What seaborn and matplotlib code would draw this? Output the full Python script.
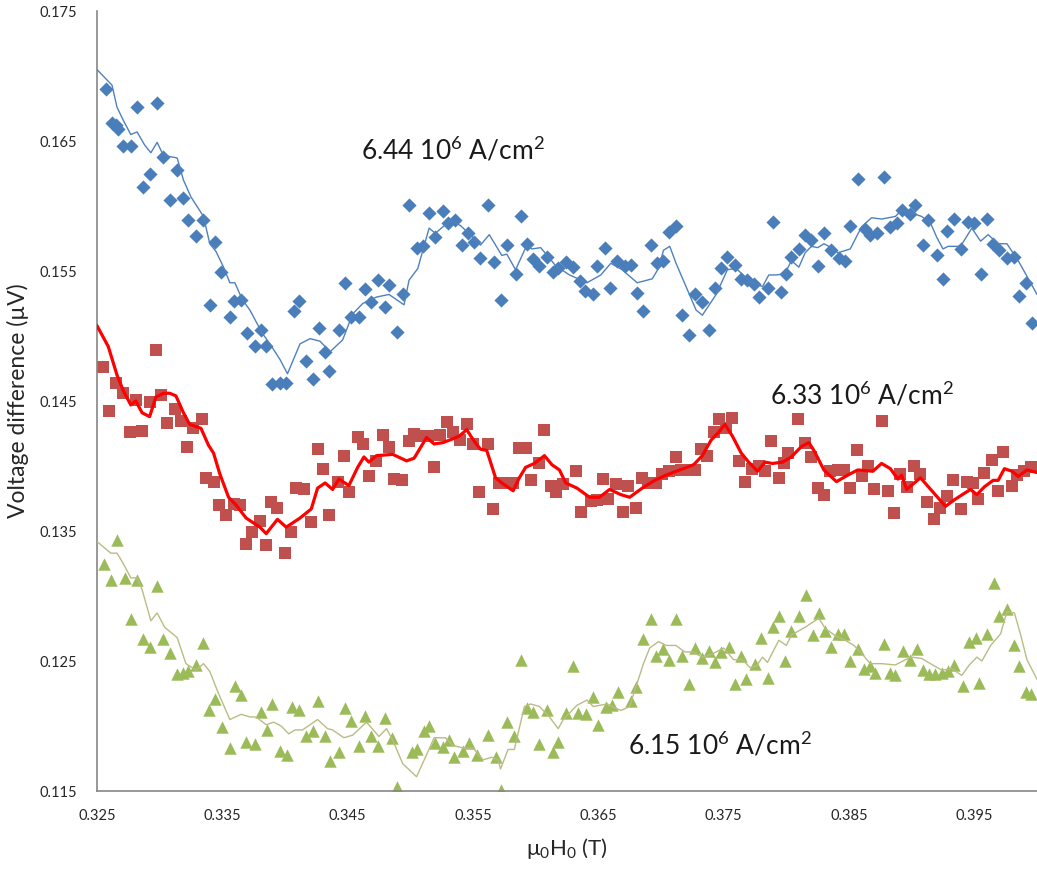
import matplotlib
matplotlib.use("Agg")
import matplotlib.pyplot as plt
import seaborn as sns
import numpy as np
import pandas as pd

# ---- data ----
blue_x = [0.3257, 0.3262, 0.3265, 0.3267, 0.3271, 0.3277, 0.3282, 0.3287, 0.3292, 0.3298,
          0.3303, 0.3308, 0.3314, 0.3319, 0.3323, 0.3329, 0.3335, 0.3340, 0.3344, 0.3349,
          0.3356, 0.3359, 0.3365, 0.3370, 0.3376, 0.3381, 0.3385, 0.3390, 0.3396, 0.3401,
          0.3407, 0.3411, 0.3417, 0.3422, 0.3427, 0.3432, 0.3435, 0.3443, 0.3448, 0.3453,
          0.3459, 0.3464, 0.3469, 0.3474, 0.3480, 0.3483, 0.3489, 0.3494, 0.3499, 0.3505,
          0.3510, 0.3515, 0.3520, 0.3526, 0.3530, 0.3536, 0.3541, 0.3546, 0.3551, 0.3556,
          0.3562, 0.3567, 0.3572, 0.3577, 0.3584, 0.3588, 0.3593, 0.3598, 0.3603, 0.3609,
          0.3614, 0.3618, 0.3624, 0.3630, 0.3635, 0.3639, 0.3646, 0.3649, 0.3655, 0.3659,
          0.3665, 0.3671, 0.3676, 0.3681, 0.3686, 0.3692, 0.3697, 0.3702, 0.3706, 0.3712,
          0.3717, 0.3722, 0.3727, 0.3733, 0.3738, 0.3743, 0.3748, 0.3753, 0.3759, 0.3764,
          0.3769, 0.3774, 0.3778, 0.3785, 0.3789, 0.3796, 0.3800, 0.3804, 0.3810, 0.3815,
          0.3820, 0.3825, 0.3830, 0.3836, 0.3842, 0.3847, 0.3851, 0.3857, 0.3863, 0.3867,
          0.3872, 0.3878, 0.3883, 0.3888, 0.3892, 0.3899, 0.3903, 0.3909, 0.3913, 0.3920,
          0.3925, 0.3928, 0.3934, 0.3939, 0.3945, 0.3950, 0.3955, 0.3960, 0.3965, 0.3970,
          0.3976, 0.3982, 0.3986, 0.3991, 0.3996]
blue_y = [0.1690, 0.1664, 0.1662, 0.1659, 0.1646, 0.1646, 0.1676, 0.1615, 0.1625, 0.1679,
          0.1638, 0.1605, 0.1628, 0.1606, 0.1589, 0.1577, 0.1589, 0.1524, 0.1572, 0.1549,
          0.1515, 0.1527, 0.1528, 0.1502, 0.1492, 0.1505, 0.1492, 0.1463, 0.1464, 0.1464,
          0.1519, 0.1527, 0.1481, 0.1467, 0.1506, 0.1488, 0.1473, 0.1505, 0.1541, 0.1515,
          0.1515, 0.1536, 0.1526, 0.1543, 0.1522, 0.1539, 0.1503, 0.1532, 0.1601, 0.1568,
          0.1569, 0.1595, 0.1576, 0.1596, 0.1587, 0.1589, 0.1570, 0.1579, 0.1572, 0.1560,
          0.1601, 0.1557, 0.1528, 0.1570, 0.1548, 0.1592, 0.1571, 0.1559, 0.1554, 0.1561,
          0.1549, 0.1552, 0.1557, 0.1553, 0.1542, 0.1535, 0.1532, 0.1554, 0.1568, 0.1537,
          0.1558, 0.1554, 0.1555, 0.1533, 0.1519, 0.1570, 0.1556, 0.1558, 0.1580, 0.1585,
          0.1516, 0.1501, 0.1532, 0.1526, 0.1505, 0.1537, 0.1552, 0.1561, 0.1555, 0.1544,
          0.1543, 0.1540, 0.1530, 0.1537, 0.1588, 0.1534, 0.1548, 0.1561, 0.1567, 0.1578,
          0.1574, 0.1554, 0.1579, 0.1566, 0.1560, 0.1558, 0.1585, 0.1621, 0.1582, 0.1578,
          0.1579, 0.1622, 0.1584, 0.1587, 0.1597, 0.1594, 0.1601, 0.1570, 0.1589, 0.1562,
          0.1544, 0.1581, 0.1590, 0.1567, 0.1588, 0.1587, 0.1548, 0.1590, 0.1571, 0.1566,
          0.1560, 0.1561, 0.1531, 0.1541, 0.1510]

red_x = [0.3255, 0.3260, 0.3265, 0.3271, 0.3276, 0.3281, 0.3286, 0.3292, 0.3297, 0.3301,
         0.3306, 0.3312, 0.3317, 0.3322, 0.3327, 0.3334, 0.3337, 0.3343, 0.3347, 0.3353,
         0.3359, 0.3364, 0.3369, 0.3374, 0.3380, 0.3385, 0.3389, 0.3394, 0.3400, 0.3405,
         0.3409, 0.3415, 0.3421, 0.3426, 0.3430, 0.3435, 0.3442, 0.3447, 0.3451, 0.3458,
         0.3462, 0.3467, 0.3473, 0.3478, 0.3483, 0.3487, 0.3493, 0.3499, 0.3503, 0.3508,
         0.3514, 0.3519, 0.3524, 0.3529, 0.3534, 0.3540, 0.3545, 0.3550, 0.3555, 0.3562,
         0.3566, 0.3571, 0.3576, 0.3582, 0.3587, 0.3592, 0.3596, 0.3603, 0.3607, 0.3612,
         0.3616, 0.3622, 0.3632, 0.3636, 0.3644, 0.3649, 0.3654, 0.3658, 0.3664, 0.3670,
         0.3674, 0.3680, 0.3685, 0.3690, 0.3696, 0.3701, 0.3706, 0.3712, 0.3716, 0.3722,
         0.3727, 0.3732, 0.3737, 0.3742, 0.3746, 0.3752, 0.3757, 0.3762, 0.3767, 0.3773,
         0.3778, 0.3783, 0.3788, 0.3794, 0.3798, 0.3801, 0.3809, 0.3815, 0.3820, 0.3825,
         0.3830, 0.3835, 0.3841, 0.3846, 0.3851, 0.3856, 0.3860, 0.3865, 0.3870, 0.3876,
         0.3881, 0.3886, 0.3891, 0.3896, 0.3902, 0.3907, 0.3912, 0.3918, 0.3923, 0.3928,
         0.3933, 0.3939, 0.3944, 0.3949, 0.3953, 0.3958, 0.3964, 0.3969, 0.3973, 0.3980,
         0.3984, 0.3990, 0.3995]
red_y = [0.1476, 0.1442, 0.1464, 0.1456, 0.1426, 0.1451, 0.1427, 0.1449, 0.1489, 0.1455,
         0.1433, 0.1444, 0.1435, 0.1415, 0.1429, 0.1436, 0.1391, 0.1388, 0.1370, 0.1362,
         0.1371, 0.1370, 0.1340, 0.1349, 0.1358, 0.1339, 0.1372, 0.1368, 0.1333, 0.1349,
         0.1383, 0.1382, 0.1357, 0.1413, 0.1398, 0.1362, 0.1388, 0.1408, 0.1380, 0.1422,
         0.1417, 0.1392, 0.1404, 0.1424, 0.1415, 0.1390, 0.1389, 0.1419, 0.1425, 0.1423,
         0.1423, 0.1399, 0.1424, 0.1434, 0.1426, 0.1420, 0.1432, 0.1417, 0.1380, 0.1417,
         0.1367, 0.1387, 0.1387, 0.1387, 0.1414, 0.1414, 0.1389, 0.1402, 0.1428, 0.1385,
         0.1380, 0.1386, 0.1396, 0.1365, 0.1373, 0.1374, 0.1390, 0.1375, 0.1386, 0.1365,
         0.1385, 0.1368, 0.1391, 0.1387, 0.1387, 0.1394, 0.1396, 0.1407, 0.1397, 0.1397,
         0.1397, 0.1413, 0.1408, 0.1426, 0.1436, 0.1429, 0.1437, 0.1404, 0.1388, 0.1398,
         0.1400, 0.1396, 0.1419, 0.1391, 0.1402, 0.1410, 0.1436, 0.1418, 0.1407, 0.1383,
         0.1378, 0.1396, 0.1397, 0.1397, 0.1383, 0.1412, 0.1392, 0.1400, 0.1382, 0.1435,
         0.1381, 0.1364, 0.1394, 0.1384, 0.1400, 0.1394, 0.1372, 0.1359, 0.1368, 0.1377,
         0.1389, 0.1367, 0.1388, 0.1387, 0.1375, 0.1395, 0.1405, 0.1381, 0.1411, 0.1385,
         0.1393, 0.1396, 0.1399]

green_x = [0.3256, 0.3261, 0.3266, 0.3272, 0.3277, 0.3282, 0.3287, 0.3292, 0.3298, 0.3303,
           0.3308, 0.3314, 0.3319, 0.3323, 0.3329, 0.3335, 0.3339, 0.3344, 0.3350, 0.3356,
           0.3360, 0.3365, 0.3369, 0.3376, 0.3381, 0.3386, 0.3390, 0.3396, 0.3402, 0.3406,
           0.3411, 0.3417, 0.3422, 0.3426, 0.3432, 0.3436, 0.3443, 0.3448, 0.3453, 0.3459,
           0.3464, 0.3469, 0.3474, 0.3480, 0.3485, 0.3489, 0.3501, 0.3505, 0.3511, 0.3515,
           0.3520, 0.3526, 0.3531, 0.3535, 0.3542, 0.3547, 0.3553, 0.3562, 0.3568, 0.3572,
           0.3577, 0.3583, 0.3588, 0.3593, 0.3598, 0.3603, 0.3609, 0.3614, 0.3618, 0.3624,
           0.3630, 0.3634, 0.3640, 0.3646, 0.3650, 0.3656, 0.3661, 0.3666, 0.3676, 0.3680,
           0.3686, 0.3692, 0.3696, 0.3702, 0.3706, 0.3712, 0.3717, 0.3722, 0.3727, 0.3733,
           0.3738, 0.3743, 0.3748, 0.3754, 0.3759, 0.3764, 0.3768, 0.3775, 0.3780, 0.3785,
           0.3789, 0.3794, 0.3799, 0.3804, 0.3810, 0.3816, 0.3821, 0.3826, 0.3831, 0.3836,
           0.3841, 0.3846, 0.3851, 0.3857, 0.3862, 0.3867, 0.3871, 0.3878, 0.3883, 0.3887,
           0.3893, 0.3899, 0.3904, 0.3909, 0.3914, 0.3919, 0.3924, 0.3929, 0.3934, 0.3941,
           0.3946, 0.3951, 0.3954, 0.3960, 0.3966, 0.3970, 0.3976, 0.3982, 0.3986, 0.3991,
           0.3995]
green_y = [0.1325, 0.1312, 0.1343, 0.1314, 0.1282, 0.1312, 0.1267, 0.1261, 0.1308, 0.1267,
           0.1256, 0.1240, 0.1241, 0.1242, 0.1247, 0.1264, 0.1212, 0.1221, 0.1199, 0.1183,
           0.1231, 0.1224, 0.1188, 0.1186, 0.1211, 0.1197, 0.1217, 0.1181, 0.1178, 0.1215,
           0.1212, 0.1192, 0.1196, 0.1219, 0.1192, 0.1173, 0.1180, 0.1214, 0.1204, 0.1185,
           0.1208, 0.1192, 0.1185, 0.1206, 0.1191, 0.1153, 0.1180, 0.1182, 0.1196, 0.1200,
           0.1187, 0.1184, 0.1189, 0.1176, 0.1181, 0.1187, 0.1178, 0.1193, 0.1176, 0.1151,
           0.1203, 0.1192, 0.1251, 0.1214, 0.1211, 0.1186, 0.1212, 0.1180, 0.1188, 0.1210,
           0.1246, 0.1210, 0.1209, 0.1222, 0.1201, 0.1215, 0.1216, 0.1226, 0.1219, 0.1230,
           0.1267, 0.1282, 0.1254, 0.1259, 0.1251, 0.1282, 0.1254, 0.1232, 0.1260, 0.1252,
           0.1258, 0.1249, 0.1257, 0.1261, 0.1232, 0.1254, 0.1236, 0.1248, 0.1268, 0.1237,
           0.1276, 0.1285, 0.1250, 0.1273, 0.1285, 0.1301, 0.1270, 0.1287, 0.1273, 0.1261,
           0.1271, 0.1271, 0.1250, 0.1259, 0.1244, 0.1246, 0.1241, 0.1263, 0.1241, 0.1239,
           0.1258, 0.1251, 0.1259, 0.1243, 0.1240, 0.1240, 0.1241, 0.1242, 0.1247, 0.1231,
           0.1265, 0.1268, 0.1233, 0.1271, 0.1310, 0.1285, 0.1290, 0.1262, 0.1246, 0.1226,
           0.1225]

# smoothed curves (read separately, they are not the plain running mean of the markers)
blue_line_x = [0.3250, 0.3262, 0.3266, 0.3271, 0.3277, 0.3282, 0.3288, 0.3293, 0.3298, 0.3303,
               0.3314, 0.3319, 0.3325, 0.3335, 0.3340, 0.3345, 0.3351, 0.3356, 0.3360, 0.3366,
               0.3372, 0.3382, 0.3388, 0.3396, 0.3402, 0.3412, 0.3420, 0.3428, 0.3436, 0.3446,
               0.3454, 0.3462, 0.3473, 0.3483, 0.3495, 0.3499, 0.3506, 0.3510, 0.3515, 0.3520,
               0.3526, 0.3532, 0.3540, 0.3550, 0.3556, 0.3563, 0.3573, 0.3577, 0.3584, 0.3593,
               0.3597, 0.3604, 0.3611, 0.3616, 0.3627, 0.3641, 0.3652, 0.3660, 0.3669, 0.3681,
               0.3693, 0.3698, 0.3702, 0.3707, 0.3712, 0.3720, 0.3728, 0.3733, 0.3744, 0.3753,
               0.3760, 0.3771, 0.3781, 0.3786, 0.3792, 0.3799, 0.3804, 0.3810, 0.3815, 0.3820,
               0.3825, 0.3830, 0.3836, 0.3841, 0.3851, 0.3860, 0.3868, 0.3876, 0.3887, 0.3892,
               0.3899, 0.3908, 0.3915, 0.3920, 0.3925, 0.3929, 0.3939, 0.3948, 0.3955, 0.3961,
               0.3969, 0.3976, 0.3985, 0.3992, 0.4000]
blue_line_y = [0.1705, 0.1693, 0.1676, 0.1666, 0.1655, 0.1657, 0.1647, 0.1641, 0.1649, 0.1639,
               0.1637, 0.1620, 0.1607, 0.1592, 0.1571, 0.1565, 0.1553, 0.1541, 0.1541, 0.1528,
               0.1520, 0.1502, 0.1494, 0.1482, 0.1471, 0.1494, 0.1498, 0.1496, 0.1488, 0.1497,
               0.1517, 0.1525, 0.1530, 0.1532, 0.1524, 0.1543, 0.1552, 0.1566, 0.1583, 0.1579,
               0.1584, 0.1589, 0.1585, 0.1576, 0.1570, 0.1578, 0.1562, 0.1563, 0.1551, 0.1570,
               0.1567, 0.1568, 0.1560, 0.1554, 0.1547, 0.1541, 0.1547, 0.1556, 0.1551, 0.1541,
               0.1544, 0.1552, 0.1566, 0.1569, 0.1556, 0.1538, 0.1520, 0.1516, 0.1532, 0.1551,
               0.1552, 0.1542, 0.1538, 0.1547, 0.1547, 0.1548, 0.1558, 0.1553, 0.1564, 0.1569,
               0.1568, 0.1571, 0.1568, 0.1564, 0.1567, 0.1584, 0.1591, 0.1590, 0.1592, 0.1597,
               0.1595, 0.1592, 0.1587, 0.1576, 0.1567, 0.1569, 0.1569, 0.1583, 0.1573, 0.1578,
               0.1571, 0.1571, 0.1558, 0.1546, 0.1532]

red_line_x = [0.3250, 0.3259, 0.3266, 0.3271, 0.3277, 0.3281, 0.3286, 0.3292, 0.3297, 0.3303,
              0.3308, 0.3313, 0.3319, 0.3324, 0.3333, 0.3339, 0.3343, 0.3348, 0.3355, 0.3361,
              0.3369, 0.3380, 0.3385, 0.3394, 0.3401, 0.3412, 0.3421, 0.3426, 0.3432, 0.3438,
              0.3443, 0.3451, 0.3458, 0.3463, 0.3467, 0.3473, 0.3486, 0.3497, 0.3503, 0.3513,
              0.3519, 0.3526, 0.3534, 0.3539, 0.3545, 0.3551, 0.3556, 0.3561, 0.3568, 0.3573,
              0.3582, 0.3587, 0.3592, 0.3599, 0.3607, 0.3613, 0.3619, 0.3624, 0.3633, 0.3643,
              0.3651, 0.3659, 0.3668, 0.3675, 0.3685, 0.3695, 0.3704, 0.3715, 0.3726, 0.3733,
              0.3740, 0.3746, 0.3751, 0.3757, 0.3764, 0.3770, 0.3777, 0.3783, 0.3789, 0.3797,
              0.3804, 0.3812, 0.3818, 0.3822, 0.3830, 0.3840, 0.3849, 0.3857, 0.3869, 0.3876,
              0.3883, 0.3889, 0.3892, 0.3896, 0.3907, 0.3917, 0.3927, 0.3934, 0.3942, 0.3947,
              0.3952, 0.3958, 0.3965, 0.3969, 0.3974, 0.3980, 0.3985, 0.3992, 0.4000]
red_line_y = [0.1508, 0.1492, 0.1470, 0.1458, 0.1447, 0.1450, 0.1441, 0.1438, 0.1453, 0.1456,
              0.1456, 0.1454, 0.1441, 0.1432, 0.1429, 0.1416, 0.1410, 0.1394, 0.1376, 0.1370,
              0.1360, 0.1353, 0.1348, 0.1359, 0.1353, 0.1360, 0.1367, 0.1383, 0.1387, 0.1382,
              0.1390, 0.1385, 0.1399, 0.1407, 0.1403, 0.1408, 0.1409, 0.1404, 0.1406, 0.1422,
              0.1417, 0.1418, 0.1421, 0.1423, 0.1428, 0.1419, 0.1413, 0.1412, 0.1391, 0.1387,
              0.1381, 0.1391, 0.1399, 0.1402, 0.1408, 0.1401, 0.1397, 0.1387, 0.1383, 0.1376,
              0.1376, 0.1382, 0.1378, 0.1376, 0.1383, 0.1389, 0.1393, 0.1397, 0.1401, 0.1408,
              0.1420, 0.1426, 0.1432, 0.1423, 0.1410, 0.1403, 0.1396, 0.1403, 0.1402, 0.1403,
              0.1407, 0.1415, 0.1418, 0.1412, 0.1397, 0.1388, 0.1393, 0.1397, 0.1396, 0.1402,
              0.1398, 0.1390, 0.1393, 0.1382, 0.1391, 0.1380, 0.1369, 0.1374, 0.1379, 0.1382,
              0.1378, 0.1384, 0.1389, 0.1389, 0.1398, 0.1396, 0.1392, 0.1397, 0.1395]

green_line_x = [0.3250, 0.3261, 0.3266, 0.3271, 0.3277, 0.3282, 0.3286, 0.3293, 0.3298, 0.3304,
                0.3314, 0.3321, 0.3329, 0.3335, 0.3340, 0.3347, 0.3352, 0.3356, 0.3365, 0.3372,
                0.3377, 0.3385, 0.3391, 0.3397, 0.3403, 0.3408, 0.3414, 0.3420, 0.3426, 0.3434,
                0.3438, 0.3447, 0.3454, 0.3465, 0.3475, 0.3481, 0.3486, 0.3494, 0.3505, 0.3513,
                0.3519, 0.3528, 0.3534, 0.3543, 0.3550, 0.3558, 0.3565, 0.3570, 0.3572, 0.3578,
                0.3583, 0.3591, 0.3596, 0.3603, 0.3611, 0.3618, 0.3622, 0.3633, 0.3641, 0.3646,
                0.3657, 0.3668, 0.3675, 0.3686, 0.3691, 0.3698, 0.3704, 0.3712, 0.3719, 0.3725,
                0.3733, 0.3740, 0.3750, 0.3758, 0.3765, 0.3771, 0.3776, 0.3781, 0.3785, 0.3794,
                0.3800, 0.3804, 0.3815, 0.3826, 0.3831, 0.3840, 0.3847, 0.3854, 0.3860, 0.3867,
                0.3876, 0.3887, 0.3895, 0.3900, 0.3908, 0.3915, 0.3924, 0.3932, 0.3940, 0.3946,
                0.3952, 0.3956, 0.3963, 0.3971, 0.3976, 0.3982, 0.3987, 0.3992, 0.4000]
green_line_y = [0.1342, 0.1333, 0.1333, 0.1325, 0.1314, 0.1314, 0.1305, 0.1281, 0.1287, 0.1276,
                0.1268, 0.1248, 0.1243, 0.1248, 0.1242, 0.1225, 0.1214, 0.1205, 0.1209, 0.1207,
                0.1207, 0.1201, 0.1203, 0.1200, 0.1194, 0.1197, 0.1197, 0.1201, 0.1205, 0.1198,
                0.1197, 0.1191, 0.1193, 0.1203, 0.1192, 0.1198, 0.1189, 0.1171, 0.1161, 0.1178,
                0.1191, 0.1191, 0.1185, 0.1183, 0.1183, 0.1174, 0.1176, 0.1174, 0.1167, 0.1182,
                0.1182, 0.1215, 0.1217, 0.1215, 0.1207, 0.1198, 0.1205, 0.1216, 0.1220, 0.1215,
                0.1217, 0.1212, 0.1215, 0.1248, 0.1260, 0.1265, 0.1262, 0.1262, 0.1257, 0.1257,
                0.1253, 0.1255, 0.1260, 0.1251, 0.1251, 0.1245, 0.1246, 0.1253, 0.1249, 0.1266,
                0.1262, 0.1270, 0.1276, 0.1283, 0.1275, 0.1269, 0.1266, 0.1262, 0.1256, 0.1248,
                0.1248, 0.1247, 0.1251, 0.1253, 0.1252, 0.1248, 0.1243, 0.1244, 0.1239, 0.1247,
                0.1253, 0.1250, 0.1262, 0.1271, 0.1288, 0.1287, 0.1270, 0.1251, 0.1236]

labels = ['6.44 10$^6$ A/cm$^2$', '6.33 10$^6$ A/cm$^2$', '6.15 10$^6$ A/cm$^2$']

x_ticks = [0.325, 0.335, 0.345, 0.355, 0.365, 0.375, 0.385, 0.395]
y_ticks = [0.115, 0.125, 0.135, 0.145, 0.155, 0.165, 0.175]


sns.set_theme(style="white")
plt.rcParams['font.family'] = ['Lato', 'DejaVu Sans']
plt.rcParams['mathtext.fontset'] = 'custom'
plt.rcParams['mathtext.rm'] = 'Lato'
plt.rcParams['mathtext.default'] = 'regular'

fig = plt.figure(figsize=(10.37, 8.77), dpi=100)
ax = fig.add_axes([0.0935, 0.098, 0.9065, 0.8894])

series = [
    (blue_x, blue_y, blue_line_x, blue_line_y, 'D', 52, '#4A7EBB', '#4F81BD', 1.0),
    (red_x, red_y, red_line_x, red_line_y, 's', 72, '#C0504D', '#FF0000', 2.3),
    (green_x, green_y, green_line_x, green_line_y, '^', 80, '#9BBB59', '#B9BC84', 1.0),
]

for px, py, lx, ly, marker, size, mcol, lcol, lw in series:
    pts = pd.DataFrame({'H': px, 'V': py})
    line = pd.DataFrame({'H': lx, 'V': ly})
    sns.scatterplot(data=pts, x='H', y='V', marker=marker, s=size,
                    color=mcol, linewidth=0, ax=ax, zorder=2)
    sns.lineplot(data=line, x='H', y='V', estimator=None, sort=False,
                 color=lcol, linewidth=lw, ax=ax, zorder=3)

ax.text(0.281, 0.822, labels[0], transform=ax.transAxes, fontsize=19,
        color='#1a1a1a', va='center', ha='left')
ax.text(0.716, 0.508, labels[1], transform=ax.transAxes, fontsize=19,
        color='#1a1a1a', va='center', ha='left')
ax.text(0.565, 0.059, labels[2], transform=ax.transAxes, fontsize=19,
        color='#1a1a1a', va='center', ha='left')

ax.set_xlim(0.325, 0.4)
ax.set_ylim(0.115, 0.175)
ax.set_xticks(x_ticks)
ax.set_yticks(y_ticks)
ax.set_xticklabels([f'{t:.3f}' for t in x_ticks])
ax.set_yticklabels([f'{t:.3f}' for t in y_ticks])
ax.tick_params(axis='both', direction='out', length=5, width=1,
               color='#868686', labelsize=10.5, labelcolor='#262626', pad=4)
ax.tick_params(axis='x', pad=8)
ax.tick_params(axis='y', pad=9)

for side in ['top', 'right']:
    ax.spines[side].set_visible(False)
for side in ['left', 'bottom']:
    ax.spines[side].set_color('#868686')
    ax.spines[side].set_linewidth(1.2)

ax.set_xlabel('μ$_0$H$_0$ (T)', fontsize=16, color='#262626', labelpad=9)
ax.set_ylabel('Voltage difference (µV)', fontsize=16.5, color='#262626', labelpad=8)
ax.grid(False)

fig.savefig('out.png', dpi=100)
